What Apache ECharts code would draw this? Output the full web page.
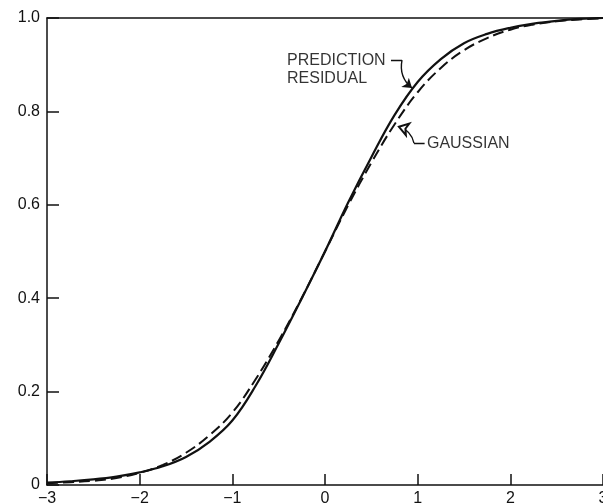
<!DOCTYPE html>
<html>
<head>
<meta charset="utf-8">
<script src="https://cdn.jsdelivr.net/npm/echarts@6/dist/echarts.min.js"></script>
<style>
  html, body { margin: 0; padding: 0; background: #fff; }
  #chart { width: 603px; height: 504px; }
</style>
</head>
<body>
<div id="chart"></div>
<script>
// x positions (standardized value)
const xValues = [-3, -2.75, -2.5, -2.25, -2, -1.75, -1.5, -1.25, -1, -0.75, -0.5, -0.25,
  0, 0.25, 0.5, 0.75, 1, 1.25, 1.5, 1.75, 2, 2.25, 2.5, 2.75, 3]

// cumulative distribution
const residual = [0.005, 0.008, 0.012, 0.018, 0.027, 0.040, 0.060, 0.092, 0.138, 0.212, 0.303, 0.400,
  0.500, 0.605, 0.702, 0.792, 0.863, 0.912, 0.946, 0.966, 0.979, 0.988, 0.994, 0.998, 1.0]
const gaussian = [0.004, 0.006, 0.009, 0.015, 0.026, 0.043, 0.069, 0.106, 0.155, 0.226, 0.309, 0.401,
  0.500, 0.599, 0.690, 0.772, 0.841, 0.893, 0.931, 0.957, 0.975, 0.986, 0.993, 0.997, 0.999]

const xTicks = [-3, -2, -1, 0, 1, 2, 3]
const yTicks = [0, 0.2, 0.4, 0.6, 0.8, 1.0]

// annotation texts: [x, y, text]
const labels = [
  [-0.41, 0.908, 'PREDICTION'],
  [-0.41, 0.870, 'RESIDUAL'],
  [1.10, 0.732, 'GAUSSIAN'],
]
// leader lines: straight part, then curved part ending in arrow
const leaderStraight = [
  [[0.712, 0.910], [0.831, 0.910]],
  [[1.075, 0.732], [0.960, 0.732]],
]
const leaderArrow = [
  { coords: [[0.831, 0.910], [0.939, 0.850]], symbol: ['none', 'arrow'], curveness: -0.3 },
  { coords: [[0.960, 0.732], [0.798, 0.767]], symbol: ['none', 'emptyArrow'], curveness: -0.3 },
]

const ink = '#111'
const font = 'Liberation Sans'

const chart = echarts.init(document.getElementById('chart'))

const pairs = (ys) => xValues.map((x, i) => [x, ys[i]])

chart.setOption({
  backgroundColor: '#fff',
  animation: false,
  grid: { left: 47, right: 0, top: 18, bottom: 19, outerBoundsMode: 'none', containLabel: false },
  xAxis: [
    {
      type: 'value',
      min: xTicks[0],
      max: xTicks[xTicks.length - 1],
      interval: 1,
      axisLine: { onZero: false, lineStyle: { color: ink, width: 1.5 } },
      axisTick: { inside: true, length: 11, lineStyle: { color: ink, width: 1.5 } },
      splitLine: { show: false },
      axisLabel: {
        color: ink, fontFamily: font, fontSize: 16, margin: 6,
        formatter: (v) => String(v).replace('-', '\u2212'),
      },
    },
    {
      type: 'value',
      position: 'top',
      min: xTicks[0],
      max: xTicks[xTicks.length - 1],
      axisLine: { show: true, onZero: false, lineStyle: { color: ink, width: 1.5 } },
      axisTick: { show: false },
      axisLabel: { show: false },
      splitLine: { show: false },
    },
  ],
  yAxis: {
    type: 'value',
    min: yTicks[0],
    max: yTicks[yTicks.length - 1],
    interval: 0.2,
    axisLine: { show: true, onZero: false, lineStyle: { color: ink, width: 1.5 } },
    axisTick: { show: true, inside: true, length: 12, lineStyle: { color: ink, width: 1.5 } },
    splitLine: { show: false },
    axisLabel: {
      color: ink, fontFamily: font, fontSize: 16, margin: 7,
      formatter: (v) => (v === 0 ? '0' : v.toFixed(1)),
    },
  },
  series: [
    {
      name: 'PREDICTION RESIDUAL',
      type: 'line',
      data: pairs(residual),
      smooth: 0.4,
      symbol: 'none',
      lineStyle: { color: ink, width: 2.2 },
    },
    {
      name: 'GAUSSIAN',
      type: 'line',
      data: pairs(gaussian),
      smooth: 0.4,
      symbol: 'none',
      lineStyle: { color: ink, width: 2, type: [11, 5] },
    },
    {
      type: 'scatter',
      data: labels,
      symbolSize: 0,
      silent: true,
      label: {
        show: true,
        position: 'right',
        distance: 0,
        formatter: (p) => p.value[2],
        color: '#000',
        fontFamily: font,
        fontSize: 16,
      },
    },
    {
      type: 'lines',
      coordinateSystem: 'cartesian2d',
      silent: true,
      symbol: 'none',
      lineStyle: { color: ink, width: 1.4, opacity: 1 },
      data: leaderStraight.map((c) => ({ coords: c })),
    },
    {
      type: 'lines',
      coordinateSystem: 'cartesian2d',
      silent: true,
      symbolSize: 9,
      data: leaderArrow.map((d) => ({
        coords: d.coords,
        symbol: d.symbol,
        lineStyle: { curveness: d.curveness },
      })),
      lineStyle: { color: ink, width: 1.4, opacity: 1 },
    },
  ],
})
</script>
</body>
</html>
